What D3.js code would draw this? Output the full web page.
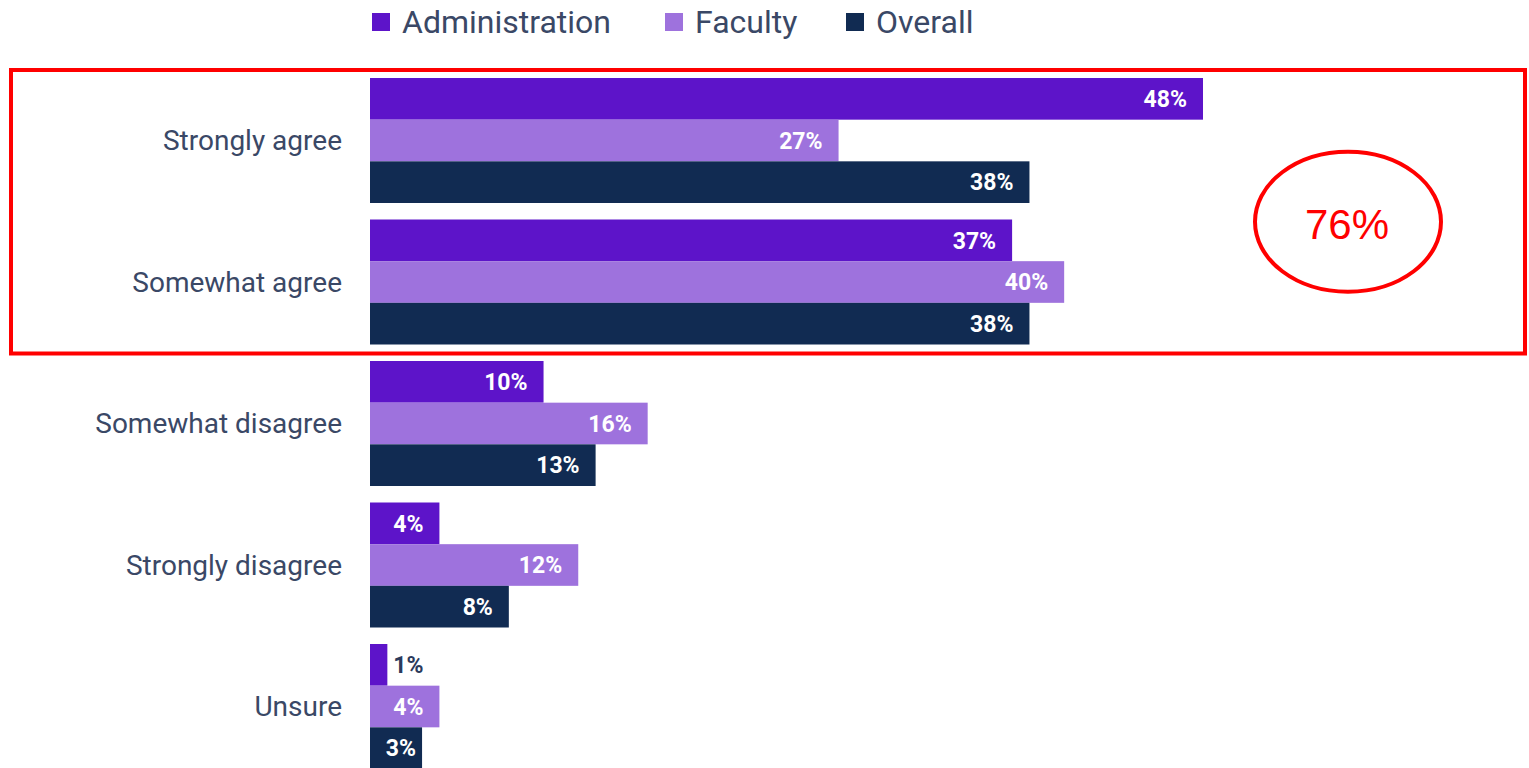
<!DOCTYPE html>
<html>
<head>
<meta charset="utf-8">
<script src="https://cdn.jsdelivr.net/npm/d3@7"></script>
<style>
  html, body { margin: 0; padding: 0; background: #fff; }
  svg { display: block; }
</style>
</head>
<body>
<svg id="chart"></svg>
<script>
// data
const categories = ['Strongly agree', 'Somewhat agree', 'Somewhat disagree', 'Strongly disagree', 'Unsure']
const seriesNames = ['Administration', 'Faculty', 'Overall']
const administration = [48, 37, 10, 4, 1]
const faculty = [27, 40, 16, 12, 4]
const overall = [38, 38, 13, 8, 3]
const colors = ['#5d14c9', '#9e72dd', '#112b52']
const highlightText = '76%'

const width = 1529, height = 768
const values = [administration, faculty, overall]

let data = []
categories.forEach((c, i) => {
  seriesNames.forEach((s, j) => {
    data.push({ cat: c, series: s, value: values[j][i], color: colors[j] })
  })
})

const svg = d3.select('#chart')
  .attr('width', width)
  .attr('height', height)

// scales
const step = 141.5, pad = 16.5 / 141.5
const yScale = d3.scaleBand()
  .domain(categories)
  .range([78, 78 + step * (categories.length - pad)])
  .paddingInner(pad)
  .paddingOuter(0)

const ySub = d3.scaleBand()
  .domain(seriesNames)
  .range([0, yScale.bandwidth()])
  .padding(0)

const xScale = d3.scaleLinear()
  .domain([0, d3.max(data, d => d.value)])
  .range([370, 1203])

// legend
const legend = svg.append('g')
const legendX = [372, 665, 846]
seriesNames.forEach((s, i) => {
  legend.append('rect')
    .attr('x', legendX[i])
    .attr('y', 13)
    .attr('width', 18)
    .attr('height', 18)
    .attr('fill', colors[i])
  legend.append('text')
    .attr('x', legendX[i] + 30)
    .attr('y', 33)
    .attr('font-family', 'Roboto, sans-serif')
    .attr('font-size', 32)
    .attr('fill', '#3a4866')
    .text(s)
})

// category labels
svg.append('g')
  .selectAll('text')
  .data(categories)
  .enter()
  .append('text')
  .attr('x', 342)
  .attr('y', d => yScale(d) + yScale.bandwidth() / 2)
  .attr('dy', '0.35em')
  .attr('text-anchor', 'end')
  .attr('font-family', 'Roboto, sans-serif')
  .attr('font-size', 28)
  .attr('fill', '#3a4866')
  .text(d => d)

// bars
const barGroups = svg.append('g')
  .selectAll('g')
  .data(data)
  .enter()
  .append('g')

barGroups.append('rect')
  .attr('x', xScale(0))
  .attr('y', d => yScale(d.cat) + ySub(d.series))
  .attr('width', d => xScale(d.value) - xScale(0))
  .attr('height', ySub.bandwidth())
  .attr('fill', d => d.color)

// value labels: inside the bar, or just outside when the bar is too short
const isShort = d => xScale(d.value) - xScale(0) < 30
barGroups.append('text')
  .attr('x', d => {
    if (isShort(d)) return xScale(d.value) + 6
    return Math.max(xScale(d.value) - 16, xScale(0) + 46)
  })
  .attr('y', d => yScale(d.cat) + ySub(d.series) + ySub.bandwidth() / 2)
  .attr('dy', '0.36em')
  .attr('text-anchor', d => isShort(d) ? 'start' : 'end')
  .attr('font-family', 'Roboto, sans-serif')
  .attr('font-weight', 700)
  .attr('font-size', 23)
  .attr('fill', d => isShort(d) ? '#2b3a5c' : '#fff')
  .text(d => d.value + '%')

// highlight box around the two "agree" rows
const boxTop = yScale(categories[0]) - 8
const boxBottom = yScale(categories[1]) + yScale.bandwidth() + 9
svg.append('rect')
  .attr('x', 11)
  .attr('y', boxTop)
  .attr('width', 1514)
  .attr('height', boxBottom - boxTop)
  .attr('fill', 'none')
  .attr('stroke', '#ff0000')
  .attr('stroke-width', 4)

const cy = (boxTop + boxBottom) / 2 + 10
svg.append('ellipse')
  .attr('cx', 1348)
  .attr('cy', cy)
  .attr('rx', 93)
  .attr('ry', 70)
  .attr('fill', 'none')
  .attr('stroke', '#ff0000')
  .attr('stroke-width', 4)

svg.append('text')
  .attr('x', 1347)
  .attr('y', cy + 17)
  .attr('text-anchor', 'middle')
  .attr('font-family', 'Liberation Sans, Arial, sans-serif')
  .attr('font-size', 42)
  .attr('fill', '#ff0000')
  .text(highlightText)
</script>
</body>
</html>
